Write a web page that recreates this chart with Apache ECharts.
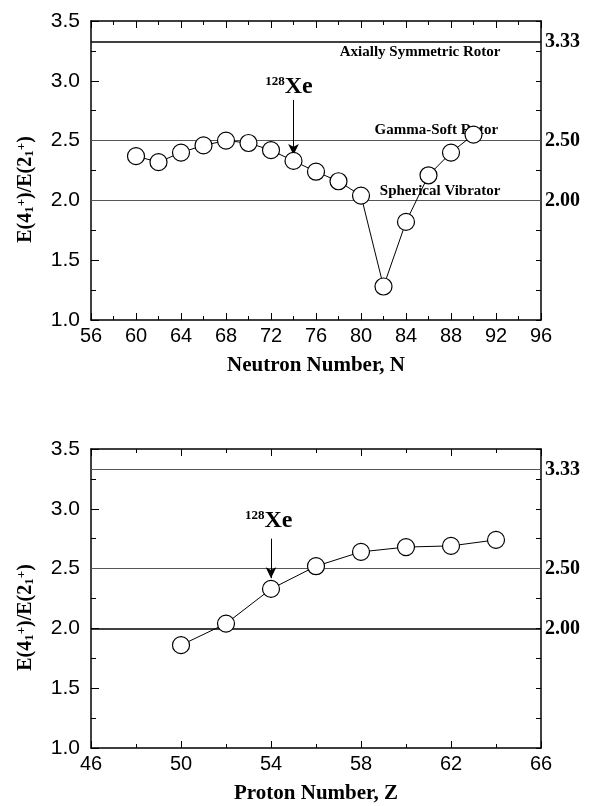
<!DOCTYPE html>
<html>
<head>
<meta charset="utf-8">
<script src="https://cdn.jsdelivr.net/npm/echarts@6/dist/echarts.min.js"></script>
<style>
  html, body { margin: 0; padding: 0; background: #fff; }
  #chart { width: 589px; height: 806px; }
</style>
</head>
<body>
<div id="chart"></div>
<script>
// top panel: ratio vs neutron number
const neutronN = [60, 62, 64, 66, 68, 70, 72, 74, 76, 78, 80, 82, 84, 86, 88, 90];
const ratioN = [2.37, 2.32, 2.40, 2.46, 2.50, 2.48, 2.42, 2.33, 2.24, 2.16, 2.04, 1.28, 1.82, 2.21, 2.40, 2.55];

// bottom panel: ratio vs proton number
const protonZ = [50, 52, 54, 56, 58, 60, 62, 64];
const ratioZ = [1.86, 2.04, 2.33, 2.52, 2.64, 2.68, 2.69, 2.74];

// limits of the collective models
const refValues = [3.33, 2.50, 2.00];
const refLabels = ['3.33', '2.50', '2.00'];
const modelNames = ['Axially Symmetric Rotor', 'Gamma-Soft Rotor', 'Spherical Vibrator'];
const modelX = [92.4, 92.2, 92.4];
const modelY = [3.238, 2.589, 2.081];

// 128Xe marker: label point and arrow (top / bottom panel)
const xeTop = { label: [73.6, 2.95], from: [74, 2.84], to: [74, 2.38] };
const xeBottom = { label: [53.9, 2.90], from: [54, 2.75], to: [54, 2.42] };

const SANS = "'Liberation Sans', Arial, sans-serif";
const SERIF = "'Liberation Serif', 'Times New Roman', serif";

const chart = echarts.init(document.getElementById('chart'));

const yTitle = '{n|E(4}{sb|1}{sp|+}{n|)/E(2}{sb|1}{sp|+}{n|)}';
const yTitleRich = {
  n: { fontFamily: SERIF, fontWeight: 'bold', fontSize: 20, color: '#000' },
  sb: { fontFamily: SERIF, fontWeight: 'bold', fontSize: 13, color: '#000', verticalAlign: 'bottom', padding: [8, 0, 0, 0] },
  sp: { fontFamily: SERIF, fontWeight: 'bold', fontSize: 13, color: '#000', verticalAlign: 'top', padding: [0, 0, 8, 0] }
};

function xAxisPair(grid, min, max, title) {
  const line = { show: true, onZero: false, lineStyle: { color: '#000', width: 1.5 } };
  return [
    {
      type: 'value', gridIndex: grid, position: 'bottom', min: min, max: max, interval: 4,
      axisLine: line,
      axisTick: { inside: true, length: 7, lineStyle: { color: '#000' } },
      minorTick: { show: true, splitNumber: 2, length: 4, lineStyle: { color: '#000' } },
      splitLine: { show: false },
      axisLabel: { fontFamily: SANS, fontSize: 20, color: '#000', margin: 6 },
      name: title, nameLocation: 'middle', nameGap: 35,
      nameTextStyle: { fontFamily: SERIF, fontWeight: 'bold', fontSize: 21, color: '#000' }
    },
    {
      type: 'value', gridIndex: grid, position: 'top', min: min, max: max, interval: 4,
      axisLine: line,
      axisTick: { inside: true, length: 7, lineStyle: { color: '#000' } },
      minorTick: { show: true, splitNumber: 2, length: 4, lineStyle: { color: '#000' } },
      splitLine: { show: false },
      axisLabel: { show: false }
    }
  ];
}

function yAxisPair(grid) {
  const line = { show: true, onZero: false, lineStyle: { color: '#000', width: 1.5 } };
  return [
    {
      type: 'value', gridIndex: grid, position: 'left', min: 1, max: 3.5, interval: 0.5,
      axisLine: line,
      axisTick: { inside: true, length: 8, lineStyle: { color: '#000' } },
      minorTick: { show: true, splitNumber: 2, length: 5, lineStyle: { color: '#000' } },
      splitLine: { show: false },
      axisLabel: { fontFamily: SANS, fontSize: 21, color: '#000', margin: 11, formatter: v => v.toFixed(1) },
      name: yTitle, nameLocation: 'middle', nameGap: 55, nameRotate: 90,
      nameTextStyle: { rich: yTitleRich, padding: [0, 38, 0, 0] }
    },
    {
      type: 'value', gridIndex: grid, position: 'right', min: 1, max: 3.5, interval: 0.25,
      axisLine: line,
      axisTick: { inside: true, length: 5, lineStyle: { color: '#000' } },
      splitLine: { show: false },
      axisLabel: { show: false }
    }
  ];
}

function refLines(styles) {
  return {
    silent: true,
    symbol: ['none', 'none'],
    animation: false,
    data: refValues.map((v, i) => ({
      yAxis: v,
      lineStyle: styles[i],
      label: {
        show: true, position: 'end', distance: 4, formatter: refLabels[i],
        fontFamily: SERIF, fontWeight: 'bold', fontSize: 20, color: '#000'
      }
    }))
  };
}

const thin = { color: '#555', width: 1, type: 'solid' };
const thick = { color: '#000', width: 1.6, type: 'solid' };

function dataSeries(x, y, xi, yi, styles) {
  return {
    type: 'line', xAxisIndex: xi, yAxisIndex: yi,
    data: x.map((v, i) => [v, y[i]]),
    symbol: 'circle', symbolSize: 17,
    lineStyle: { color: '#000', width: 1 },
    itemStyle: { color: '#fff', borderColor: '#000', borderWidth: 1.2 },
    z: 5,
    markLine: refLines(styles)
  };
}

const xeRich = {
  sup: { fontFamily: SERIF, fontWeight: 'bold', fontSize: 13, color: '#000', verticalAlign: 'top', padding: [0, 0, 11, 0] },
  big: { fontFamily: SERIF, fontWeight: 'bold', fontSize: 24, color: '#000' }
};

function xeSeries(xe, xi, yi) {
  return {
    type: 'scatter', xAxisIndex: xi, yAxisIndex: yi, silent: true,
    symbolSize: 0,
    itemStyle: { opacity: 1 },
    data: [xe.label],
    label: {
      show: true, position: 'inside', formatter: '{sup|128}{big|Xe}', rich: xeRich,
      color: '#000', textBorderWidth: 0
    },
    markLine: {
      silent: true, animation: false,
      symbol: ['none', 'arrow'], symbolSize: [8, 11],
      lineStyle: { color: '#000', width: 1, type: 'solid' },
      label: { show: false },
      data: [[{ coord: xe.from }, { coord: xe.to }]]
    }
  };
}

const option = {
  animation: false,
  backgroundColor: '#fff',
  grid: [
    { left: 91, top: 21, width: 450, height: 299 },
    { left: 91, top: 449, width: 450, height: 299 }
  ],
  xAxis: [].concat(
    xAxisPair(0, 56, 96, 'Neutron Number, N'),
    xAxisPair(1, 46, 66, 'Proton Number, Z')
  ),
  yAxis: [].concat(yAxisPair(0), yAxisPair(1)),
  series: [
    dataSeries(neutronN, ratioN, 0, 0, [thick, thin, thin]),
    dataSeries(protonZ, ratioZ, 2, 2, [thin, thin, thick]),
    {
      type: 'scatter', xAxisIndex: 0, yAxisIndex: 0, silent: true, symbolSize: 0, z: 3,
      itemStyle: { opacity: 1 },
      data: modelX.map((v, i) => [v, modelY[i], modelNames[i]]),
      label: {
        show: true, position: 'left', distance: 0,
        formatter: p => p.data[2],
        fontFamily: SERIF, fontWeight: 'bold', fontSize: 15, color: '#000', textBorderWidth: 0
      }
    },
    xeSeries(xeTop, 0, 0),
    xeSeries(xeBottom, 2, 2)
  ]
};

chart.setOption(option);
</script>
</body>
</html>
